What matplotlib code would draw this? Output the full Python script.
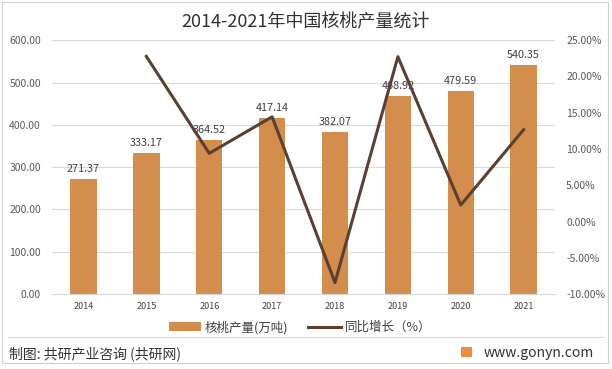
import numpy as np
import matplotlib.pyplot as plt
from matplotlib.patches import Rectangle

plt.rcParams['font.family'] = ['Noto Sans CJK SC', 'DejaVu Sans']

years = ['2014', '2015', '2016', '2017', '2018', '2019', '2020', '2021']
output = [271.37, 333.17, 364.52, 417.14, 382.07, 468.92, 479.59, 540.35]
growth_years = ['2015', '2016', '2017', '2018', '2019', '2020', '2021']
growth = [22.77, 9.41, 14.44, -8.41, 22.73, 2.28, 12.67]

bar_color = '#D38D4C'
line_color = '#5A4030'
text_color = '#595959'

fig = plt.figure(figsize=(6.12, 3.69), dpi=100)
ax = fig.add_axes([0.085, 0.203, 0.822, 0.688])
ax2 = ax.twinx()

x = np.arange(len(years))
ax.bar(x, output, width=0.42, color=bar_color, zorder=2, label='核桃产量(万吨)')
for xi, v in zip(x, output):
    ax.text(xi, v + 12, f'{v:.2f}', ha='center', va='bottom', fontsize=7.8, color='#404040')

gx = [years.index(y) for y in growth_years]
ax2.plot(gx, growth, color=line_color, lw=2.2, zorder=3, label='同比增长（%）')

ax.set_xlim(-0.5, 7.5)
ax.set_ylim(0, 600)
ax.set_yticks(np.arange(0, 601, 100))
ax.set_yticklabels([f'{v:.2f}' for v in np.arange(0, 601, 100)])
ax2.set_ylim(-10, 25)
ax2.set_yticks(np.arange(-10, 26, 5))
ax2.set_yticklabels([f'{v:.2f}%' for v in np.arange(-10, 26, 5)])
ax.set_xticks(x)
ax.set_xticklabels(years, fontsize=6.5)

ax.grid(axis='y', color='#D9D9D9', lw=0.8, zorder=0)
for a in (ax, ax2):
    for s in a.spines.values():
        s.set_visible(False)
    a.tick_params(length=0, colors=text_color, labelsize=7.5)
ax.spines['bottom'].set_visible(True)
ax.spines['bottom'].set_color('#D9D9D9')
ax.tick_params(axis='x', labelsize=6.5, pad=6, colors='#404040')
ax.tick_params(axis='y', pad=8)
ax2.tick_params(axis='y', pad=8)

fig.text(0.5, 0.94, '2014-2021年中国核桃产量统计', ha='center', va='center',
         fontsize=13, color='#333333')

h1, l1 = ax.get_legend_handles_labels()
h2, l2 = ax2.get_legend_handles_labels()
fig.legend(h1 + h2, l1 + l2, loc='center', bbox_to_anchor=(0.49, 0.113), ncol=2,
           frameon=False, fontsize=9, handlelength=2.6, handletextpad=0.3,
           columnspacing=1.6, labelcolor='#404040')

# border and footer
fig.add_artist(Rectangle((0.004, 0.016), 0.99, 0.978, transform=fig.transFigure,
                         fill=False, edgecolor='#D0D0D0', lw=0.8))
fig.add_artist(plt.Line2D([0.013, 0.985], [0.087, 0.087], transform=fig.transFigure,
                          color='#D9D9D9', lw=0.8))
fig.text(0.015, 0.041, '制图: 共研产业咨询 (共研网)', ha='left', va='center',
         fontsize=10, color='#333333')
fig.add_artist(Rectangle((0.753, 0.0325), 0.018, 0.027, transform=fig.transFigure,
                         color='#F08A3C', lw=0))
fig.text(0.971, 0.043, 'www.gonyn.com', ha='right', va='center',
         fontsize=10, color='#333333')

fig.savefig('out.png', dpi=100)
